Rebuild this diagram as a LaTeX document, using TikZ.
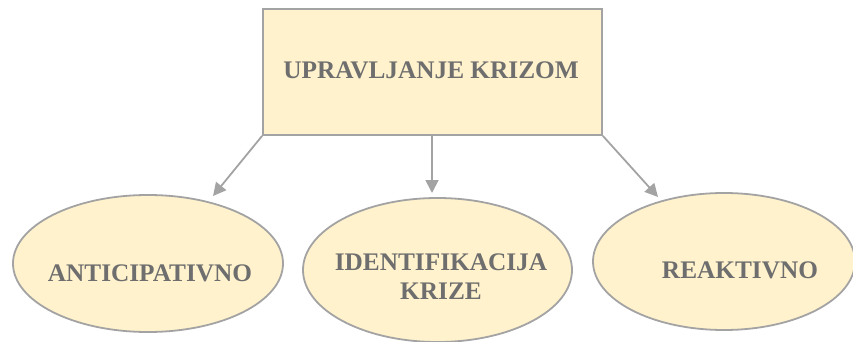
\documentclass[tikz,border=0pt]{standalone}
\usepackage{fontspec}
\setmainfont{Liberation Serif}
\usetikzlibrary{shapes.geometric,arrows.meta}
\definecolor{fillc}{HTML}{FFF2CC}
\definecolor{linec}{HTML}{A3A3A3}
\definecolor{textc}{HTML}{6E6E6E}
\tikzset{
  shapeline/.style={draw=linec, line width=1.8pt, fill=fillc},
  oval/.style={shapeline, ellipse, inner sep=0pt},
  lbl/.style={text=textc, font=\fontsize{25.3}{29}\selectfont\bfseries, align=center, inner sep=0pt},
  conn/.style={draw=linec, line width=1.8pt, -{Triangle[length=13pt,width=13pt]}}
}
\begin{document}
\begin{tikzpicture}[x=1pt,y=-1pt]
\useasboundingbox (0,0) rectangle (853,342);
\node[shapeline, rectangle, minimum width=339pt, minimum height=126pt, inner sep=0pt] (box) at (432.5,72) {};
\node[lbl] (boxt) at (431,70) {UPRAVLJANJE KRIZOM};
\node[oval, minimum width=270pt, minimum height=137pt] (l) at (148,263.5) {};
\node[oval, minimum width=269pt, minimum height=144pt] (m) at (437.5,270) {};
\node[oval, minimum width=262pt, minimum height=137pt] (r) at (724,261.5) {};
\node[lbl] (lt) at (150,273) {ANTICIPATIVNO};
\node[lbl] (mt) at (441,277) {IDENTIFIKACIJA\\KRIZE};
\node[lbl] (rt) at (740,270) {REAKTIVNO};
\coordinate (ltip) at (213,196);
\coordinate (mtip) at (432,193);
\coordinate (rtip) at (658,197);
\draw[conn] (box.south west) -- (ltip);
\draw[conn] (box.south -| mtip) -- (mtip);
\draw[conn] (box.south east) -- (rtip);
\end{tikzpicture}
\end{document}
